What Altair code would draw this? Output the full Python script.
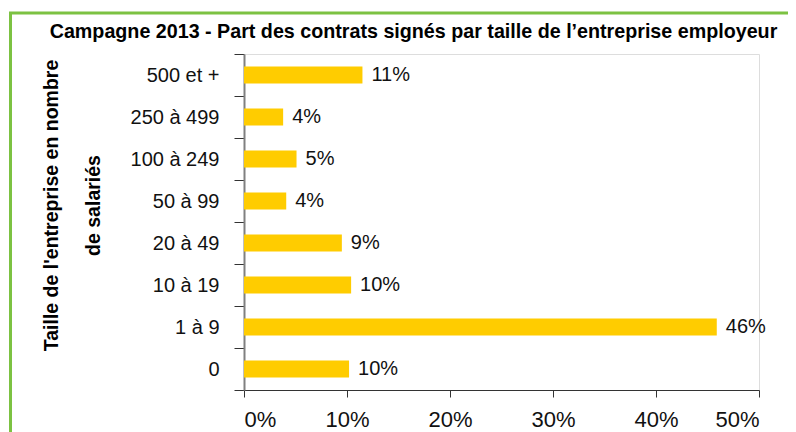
import altair as alt
import pandas as pd

categories = ["500 et +", "250 à 499", "100 à 249", "50 à 99", "20 à 49", "10 à 19", "1 à 9", "0"]
values = [0.115, 0.038, 0.051, 0.041, 0.095, 0.104, 0.459, 0.102]
labels = ["11%", "4%", "5%", "4%", "9%", "10%", "46%", "10%"]
x_ticks = [0, 0.1, 0.2, 0.3, 0.4, 0.5]

FONT = "Liberation Sans"
GREEN = "#7CC242"
GOLD = "#FFCC00"

df = pd.DataFrame({"cat": categories, "val": values, "lab": labels})

y_enc = alt.Y(
    "cat:N",
    sort=categories,
    scale=alt.Scale(paddingInner=0, paddingOuter=0),
    axis=alt.Axis(
        title=["Taille de l'entreprise en nombre", "de salariés"],
        titleFont=FONT,
        titleFontSize=19.5,
        titleFontWeight="bold",
        titleColor="black",
        titleAngle=270,
        titleX=-193,
        titleY=151,
        titleBaseline="middle",
        titleAlign="center",
        titleLineHeight=42,
        labelFont=FONT,
        labelFontSize=20,
        labelColor="#111111",
        labelPadding=15,
        tickSize=10,
        tickBand="extent",
        tickColor="#333333",
        domainColor="#808080",
        domainWidth=2,
    ),
)

bars = alt.Chart(df).mark_bar(color=GOLD, height=alt.RelativeBandSize(0.4)).encode(
    x=alt.X(
        "val:Q",
        scale=alt.Scale(domain=[0, 0.5], nice=False),
        axis=alt.Axis(
            title=None,
            format=".0%",
            values=x_ticks,
            labelFont=FONT,
            labelFontSize=22,
            labelColor="#111111",
            labelPadding=12,
            tickSize=7,
            tickColor="#333333",
            domainColor="#333333",
            grid=False,
        ),
    ),
    y=y_enc,
)

text = alt.Chart(df).mark_text(
    align="left", baseline="middle", dx=9, font=FONT, fontSize=20, color="#111111"
).encode(
    x=alt.X("val:Q"),
    y=alt.Y("cat:N", sort=categories),
    text="lab:N",
)

border_df = pd.DataFrame({"k": [0]})
vline = alt.Chart(border_df).mark_rule(color=GREEN, strokeWidth=3).encode(
    x=alt.value(-233.5), y=alt.value(-41), y2=alt.value(420)
)
hline = alt.Chart(border_df).mark_rule(color=GREEN, strokeWidth=3).encode(
    x=alt.value(-235), x2=alt.value(560), y=alt.value(-41)
)

chart = (
    alt.layer(vline, hline, bars, text)
    .properties(
        width=515,
        height=336,
        autosize=alt.AutoSizeParams(type="none"),
        padding={"left": 236, "top": 46, "right": 29, "bottom": 42},
        title=alt.TitleParams(
            text="Campagne 2013 - Part des contrats signés par taille de l’entreprise employeur",
            font=FONT,
            fontSize=19.7,
            fontWeight="bold",
            color="black",
            anchor="middle",
            frame="group",
            dx=-88,
            dy=46.5,
            offset=0,
            baseline="alphabetic",
        ),
    )
    .configure_view(stroke=None)
    .configure(background="white")
)

chart.save("out.html", embed_options={"renderer": "svg", "actions": False})
